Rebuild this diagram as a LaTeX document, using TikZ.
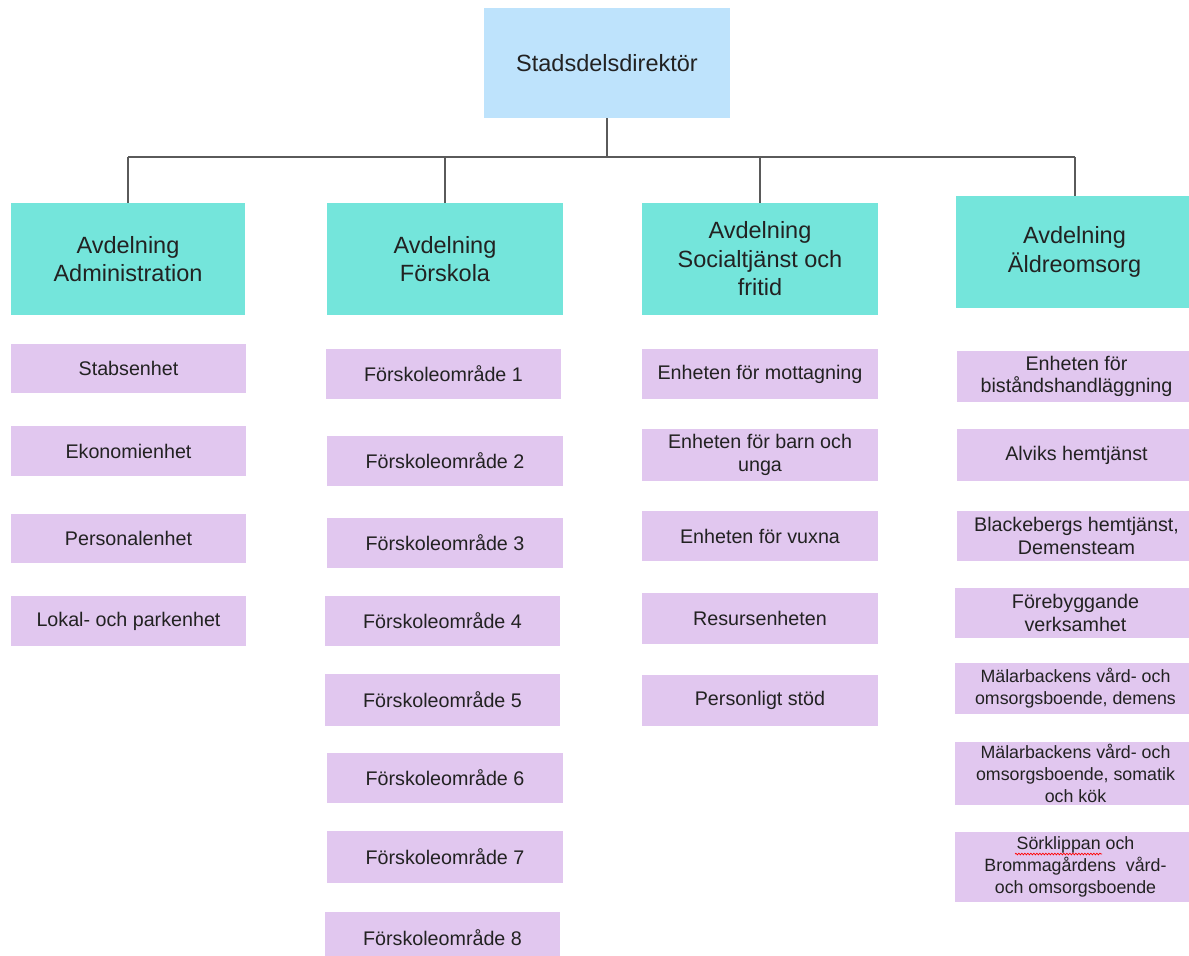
\documentclass[tikz,border=0pt]{standalone}
\usepackage{fontspec}
\setmainfont{Liberation Sans}
\usetikzlibrary{decorations.pathmorphing}
\definecolor{topblue}{HTML}{BEE3FC}
\definecolor{deptcol}{HTML}{74E5DB}
\definecolor{unitcol}{HTML}{E1C7EF}
\definecolor{txtcol}{HTML}{222222}
\definecolor{conncol}{HTML}{5A5A5A}
\begin{document}
\begin{tikzpicture}[x=1pt,y=-1pt,
  box/.style={rectangle, draw=none, inner sep=0pt, align=center, text=txtcol},
  topbox/.style={box, fill=topblue, font=\fontsize{23.5}{28.5}\selectfont},
  deptbox/.style={box, fill=deptcol, minimum height=112pt, font=\fontsize{23.5}{28.5}\selectfont},
  unitbox/.style={box, fill=unitcol, font=\fontsize{19.7}{22.5}\selectfont},
  smallunit/.style={box, fill=unitcol, font=\fontsize{17.8}{21.7}\selectfont},
  connector/.style={draw=conncol, line width=2pt}]
\useasboundingbox (0,0) rectangle (1189,956);
\clip (0,0) rectangle (1189,956);
\fill[white] (0,0) rectangle (1189,956);

% top
\node[topbox, minimum width=246pt, minimum height=110pt] (top) at (607,63) {Stadsdelsdirektör};

% departments
\node[deptbox, minimum width=234pt] (adm) at (128,259) {Avdelning\\Administration};
\node[deptbox, minimum width=236pt] (fsk) at (445,259) {Avdelning\\Förskola};
\node[deptbox, minimum width=236pt] (soc) at (760,259) {Avdelning\\Socialtjänst och\\fritid};
\node[deptbox, minimum width=237pt] (ald) at (1074.5,252) {Avdelning\\Äldreomsorg};

% connectors
\coordinate (bus) at (609,157);
\draw[connector] (top.south) -- (top.south |- bus);
\draw[connector] (adm.north |- bus) -- (ald.north |- bus);
\draw[connector] (adm.north) -- (adm.north |- bus);
\draw[connector] (fsk.north) -- (fsk.north |- bus);
\draw[connector] (soc.north) -- (soc.north |- bus);
\draw[connector] (ald.north) -- (ald.north |- bus);

% Administration units
\node[unitbox, minimum width=235pt, minimum height=49pt] (stab) at (128.5,368.5) {Stabsenhet};
\node[unitbox, minimum width=235pt, minimum height=50pt] (eko) at (128.5,451) {Ekonomienhet};
\node[unitbox, minimum width=235pt, minimum height=49pt] (pers) at (128.5,538.5) {Personalenhet};
\node[unitbox, minimum width=235pt, minimum height=50pt] (lok) at (128.5,621) {Lokal- och parkenhet};

% Förskola units
\node[unitbox, minimum width=235pt, minimum height=50pt] (f1) at (443.5,374) {Förskoleområde 1};
\node[unitbox, minimum width=236pt, minimum height=50pt] (f2) at (445,461) {Förskoleområde 2};
\node[unitbox, minimum width=236pt, minimum height=50pt] (f3) at (445,543) {Förskoleområde 3};
\node[unitbox, minimum width=235pt, minimum height=50pt] (f4) at (442.5,621) {Förskoleområde 4};
\node[unitbox, minimum width=235pt, minimum height=52pt] (f5) at (442.5,700) {Förskoleområde 5};
\node[unitbox, minimum width=236pt, minimum height=50pt] (f6) at (445,778) {Förskoleområde 6};
\node[unitbox, minimum width=236pt, minimum height=52pt] (f7) at (445,857) {Förskoleområde 7};
\node[unitbox, minimum width=235pt, minimum height=51pt] (f8) at (442.5,937.5) {Förskoleområde 8};

% Socialtjänst units
\node[unitbox, minimum width=236pt, minimum height=50pt] (mot) at (760,374) {Enheten för mottagning};
\node[unitbox, minimum width=236pt, minimum height=52pt] (barn) at (760,455) {Enheten för barn och\\unga};
\node[unitbox, minimum width=236pt, minimum height=50pt] (vux) at (760,536) {Enheten för vuxna};
\node[unitbox, minimum width=236pt, minimum height=51pt] (res) at (760,618.5) {Resursenheten};
\node[unitbox, minimum width=236pt, minimum height=51pt] (pstod) at (760,700.5) {Personligt stöd};

% Äldreomsorg units
\node[unitbox, minimum width=239pt, minimum height=51pt] (bist) at (1076.5,376.5) {Enheten för\\biståndshandläggning};
\node[unitbox, minimum width=239pt, minimum height=52pt] (alv) at (1076.5,455) {Alviks hemtjänst};
\node[unitbox, minimum width=239pt, minimum height=50pt] (black) at (1076.5,536) {Blackebergs hemtjänst,\\Demensteam};
\node[unitbox, minimum width=241pt, minimum height=50pt] (foreb) at (1075.5,613) {Förebyggande\\verksamhet};
\node[smallunit, minimum width=241pt, minimum height=51pt] (md) at (1075.5,688.5) {Mälarbackens vård- och\\omsorgsboende, demens};
\node[smallunit, minimum width=241pt, minimum height=63pt] (ms) at (1075.5,773.5) {Mälarbackens vård- och\\omsorgsboende, somatik\\och kök};
\node[smallunit, minimum width=241pt, minimum height=70pt] (sork) at (1075.5,867) {Sörklippan och\\Brommagårdens\ \ vård-\\och omsorgsboende};
\draw[red, line width=0.7pt, decorate, decoration={snake, amplitude=0.8pt, segment length=3pt}] (1015,854) -- (1102,854);
\end{tikzpicture}
\end{document}
